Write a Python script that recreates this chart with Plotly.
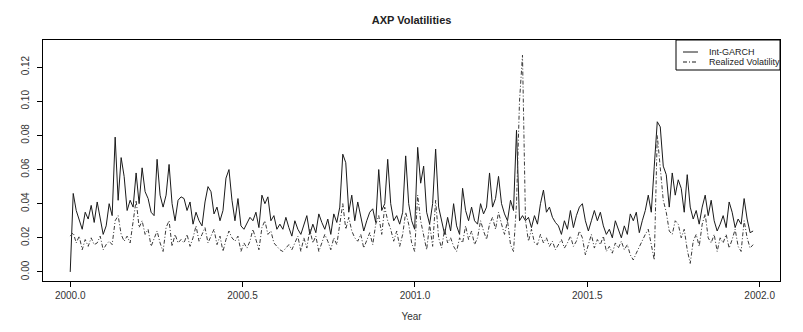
import numpy as np
import plotly.graph_objects as go

# Int-GARCH volatility (2000.0 -> ~2001.98)
garch = [
    0.000, 0.046, 0.036, 0.031, 0.025, 0.035, 0.031, 0.039, 0.029, 0.041,
    0.032, 0.022, 0.027, 0.040, 0.033, 0.079, 0.042, 0.067, 0.056, 0.036,
    0.042, 0.038, 0.058, 0.040, 0.061, 0.047, 0.043, 0.035, 0.033, 0.066,
    0.045, 0.038, 0.045, 0.063, 0.040, 0.030, 0.042, 0.044,
    0.043, 0.036, 0.041, 0.028, 0.035, 0.030, 0.027, 0.041, 0.050, 0.047,
    0.034, 0.038, 0.030, 0.036, 0.055, 0.060, 0.042, 0.030, 0.043, 0.027,
    0.025, 0.029, 0.032, 0.030, 0.035, 0.026, 0.045, 0.040, 0.044, 0.030,
    0.033, 0.025, 0.028, 0.025, 0.032, 0.026, 0.021, 0.030, 0.025, 0.022,
    0.027, 0.033, 0.022, 0.028, 0.023, 0.034, 0.029, 0.025, 0.031, 0.022,
    0.034, 0.029, 0.038, 0.069, 0.064, 0.035, 0.045, 0.030, 0.041, 0.033,
    0.024, 0.030, 0.035, 0.037, 0.029, 0.060, 0.036, 0.040, 0.066, 0.040,
    0.030, 0.033, 0.028, 0.035, 0.068, 0.040, 0.030, 0.025, 0.073,
    0.052, 0.062, 0.035, 0.028, 0.040, 0.072, 0.038, 0.030, 0.022, 0.032,
    0.024, 0.040, 0.027, 0.022, 0.049, 0.036, 0.030, 0.038, 0.030, 0.028,
    0.040, 0.034, 0.038, 0.058, 0.038, 0.043, 0.056, 0.040, 0.034, 0.030,
    0.042, 0.036, 0.083, 0.030, 0.033, 0.030, 0.032, 0.026, 0.033,
    0.028, 0.040, 0.048, 0.035, 0.038, 0.032, 0.029, 0.027, 0.022, 0.030,
    0.025, 0.036, 0.026, 0.033, 0.038, 0.040, 0.030, 0.024, 0.030, 0.036,
    0.030, 0.035, 0.027, 0.022, 0.025, 0.020, 0.030, 0.025, 0.020, 0.027,
    0.022, 0.034, 0.030, 0.035, 0.023, 0.030, 0.036, 0.045, 0.035, 0.062,
    0.088, 0.085, 0.062, 0.057, 0.038, 0.058, 0.045, 0.054, 0.049, 0.035,
    0.057, 0.038, 0.031, 0.036, 0.028, 0.038, 0.045, 0.033, 0.042, 0.030,
    0.024, 0.028, 0.033, 0.026, 0.041, 0.035, 0.026, 0.031, 0.028, 0.043,
    0.031, 0.023, 0.024,
]

# Realized volatility
realized = [
    0.021, 0.023, 0.017, 0.021, 0.013, 0.019, 0.015, 0.020, 0.016, 0.017,
    0.021, 0.013, 0.016, 0.018, 0.016, 0.030, 0.033, 0.022, 0.018, 0.021,
    0.017, 0.030, 0.042, 0.026, 0.030, 0.022, 0.025, 0.015, 0.020, 0.024,
    0.017, 0.012, 0.026, 0.030, 0.015, 0.022, 0.017, 0.019,
    0.017, 0.022, 0.015, 0.020, 0.027, 0.018, 0.022, 0.026, 0.017, 0.021,
    0.025, 0.016, 0.021, 0.012, 0.019, 0.024, 0.020, 0.018, 0.021, 0.012,
    0.017, 0.014, 0.018, 0.025, 0.019, 0.013, 0.026, 0.030, 0.022, 0.024,
    0.017, 0.015, 0.013, 0.012, 0.014, 0.016, 0.013, 0.017, 0.021, 0.012,
    0.020, 0.014, 0.025, 0.017, 0.021, 0.012, 0.017, 0.022, 0.018, 0.013,
    0.020, 0.016, 0.028, 0.040, 0.025, 0.032, 0.024, 0.020, 0.018, 0.022,
    0.014, 0.019, 0.023, 0.016, 0.028, 0.033, 0.022, 0.038, 0.030, 0.025,
    0.018, 0.024, 0.015, 0.022, 0.035, 0.028, 0.017, 0.012, 0.045,
    0.030, 0.022, 0.013, 0.028, 0.015, 0.042, 0.020, 0.014, 0.025, 0.017,
    0.020, 0.015, 0.012, 0.020, 0.017, 0.027, 0.019, 0.024, 0.016, 0.020,
    0.030, 0.024, 0.019, 0.028, 0.032, 0.025, 0.035, 0.028, 0.022, 0.030,
    0.016, 0.012, 0.040, 0.100, 0.127, 0.030, 0.018, 0.025, 0.017,
    0.016, 0.022, 0.017, 0.020, 0.015, 0.018, 0.013, 0.016, 0.019, 0.014,
    0.017, 0.021, 0.015, 0.018, 0.024, 0.020, 0.010, 0.016, 0.022, 0.014,
    0.019, 0.016, 0.021, 0.012, 0.015, 0.011, 0.017, 0.014, 0.018, 0.013,
    0.016, 0.010, 0.007, 0.011, 0.015, 0.018, 0.022, 0.025, 0.017, 0.007,
    0.080, 0.060, 0.042, 0.035, 0.024, 0.022, 0.030, 0.028, 0.020, 0.025,
    0.013, 0.005, 0.018, 0.022, 0.015, 0.028, 0.034, 0.020, 0.017, 0.022,
    0.012, 0.020, 0.017, 0.022, 0.014, 0.019, 0.025, 0.015, 0.012, 0.030,
    0.020, 0.014, 0.016,
]

year_start, year_end = 2000.0, 2001.981
x_ticks = [2000.0, 2000.5, 2001.0, 2001.5, 2002.0]
y_ticks = [0.00, 0.02, 0.04, 0.06, 0.08, 0.10, 0.12]
series_names = ["Int-GARCH", "Realized Volatility"]
dash_rv = "4px,2px,1px,2px"

fig = go.Figure()
fig.add_trace(go.Scatter(
    x=np.linspace(year_start, year_end, len(garch)), y=garch,
    mode="lines", name=series_names[0],
    line=dict(color="#1a1a1a", width=1),
))
fig.add_trace(go.Scatter(
    x=np.linspace(year_start, year_end, len(realized)), y=realized,
    mode="lines", name=series_names[1],
    line=dict(color="#3a3a3a", width=1, dash=dash_rv),
))

axis_common = dict(
    showline=True, linecolor="black", linewidth=1, mirror=True,
    showgrid=False, zeroline=False, ticks="outside", ticklen=5,
    tickcolor="black", tickfont=dict(size=10, color="#333333"),
)

# legend drawn R-style: boxed in the top-right corner of the plot
legend_shapes = [
    dict(type="rect", xref="paper", yref="paper", x0=0.8589, x1=1.0, y0=0.8755, y1=1.0,
         line=dict(color="black", width=1), fillcolor="white", layer="above"),
    dict(type="line", xref="paper", yref="paper", x0=0.8684, x1=0.8887, y0=0.9502, y1=0.9502,
         line=dict(color="#1a1a1a", width=1), layer="above"),
    dict(type="line", xref="paper", yref="paper", x0=0.8684, x1=0.8887, y0=0.9087, y1=0.9087,
         line=dict(color="#1a1a1a", width=1, dash=dash_rv), layer="above"),
]
legend_labels = [
    dict(text=series_names[0], xref="paper", yref="paper", x=0.9010, y=0.9502,
         xanchor="left", yanchor="middle", showarrow=False,
         font=dict(size=9, color="#222222")),
    dict(text=series_names[1], xref="paper", yref="paper", x=0.9010, y=0.9087,
         xanchor="left", yanchor="middle", showarrow=False,
         font=dict(size=9, color="#222222")),
]

fig.update_layout(
    width=803, height=332,
    margin=dict(l=43, r=23, t=40, b=51),
    paper_bgcolor="white", plot_bgcolor="white",
    font=dict(family="Liberation Sans, Arial, sans-serif", color="#222222"),
    title=dict(text="<b>AXP Volatilities</b>", x=0.5125, xanchor="center",
               y=1 - 20 / 332, yanchor="middle", font=dict(size=11, color="#222222")),
    xaxis=dict(axis_common, range=[1999.921, 2002.059], tickvals=x_ticks,
               ticktext=["%.1f" % t for t in x_ticks],
               title=dict(text="Year", font=dict(size=10, color="#333333"), standoff=12)),
    yaxis=dict(axis_common, range=[-0.0053, 0.1359], tickvals=y_ticks,
               ticktext=["%.2f" % t for t in y_ticks], tickangle=-90,
               ticklabelstandoff=4),
    shapes=legend_shapes,
    annotations=legend_labels,
    showlegend=False,
)

fig.write_html("out.html", config={"displayModeBar": False},
               post_script="document.body.style.margin='0px';")
